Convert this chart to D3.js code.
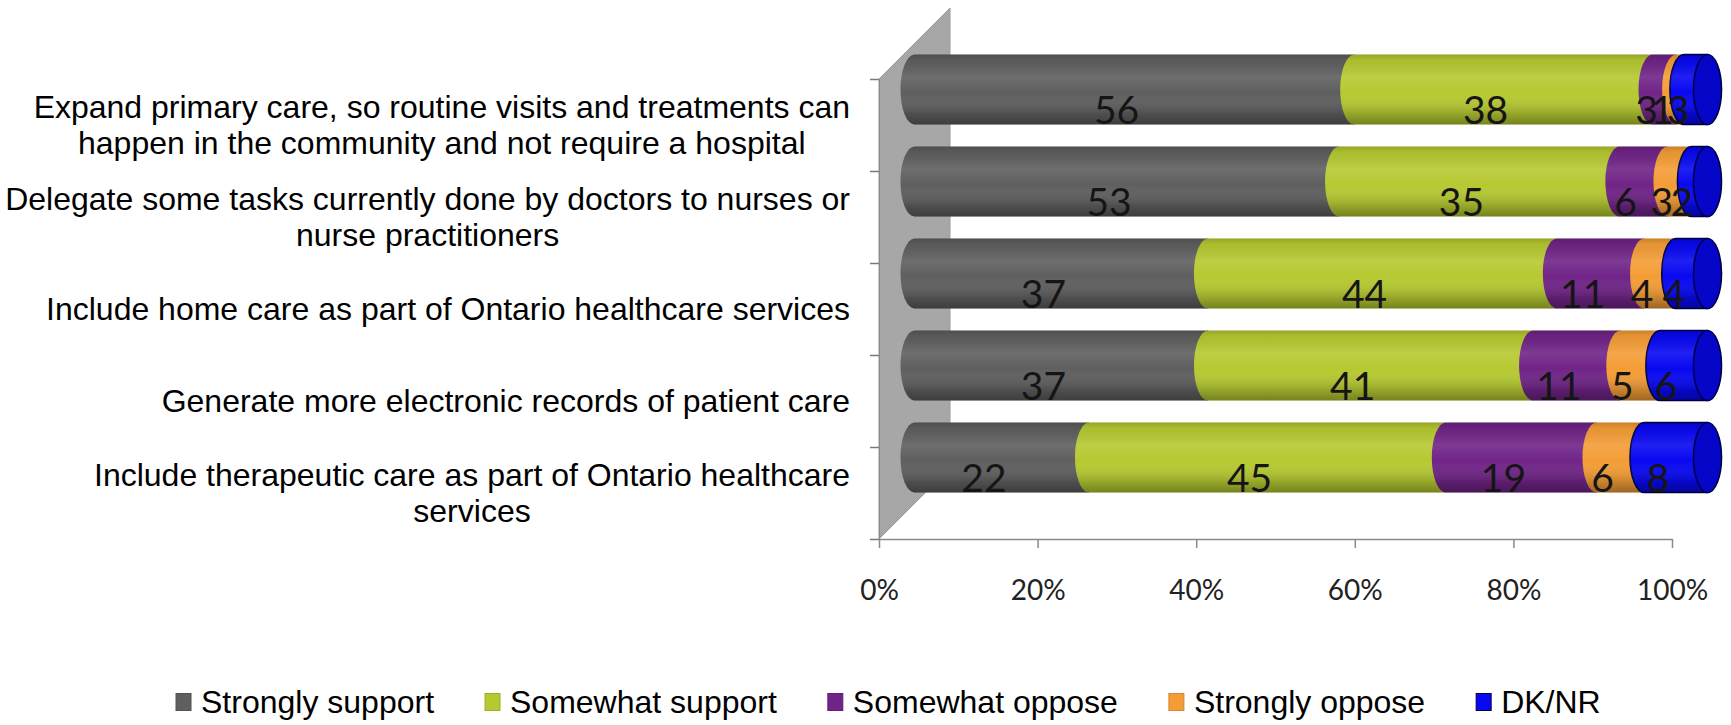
<!DOCTYPE html>
<html>
<head>
<meta charset="utf-8">
<script src="https://cdn.jsdelivr.net/npm/d3@7"></script>
<style>
  html, body { margin: 0; padding: 0; background: #ffffff; }
  svg { display: block; }
</style>
</head>
<body>
<svg id="chart" width="1731" height="725"></svg>
<script>
// Support for proposed Ontario healthcare changes (% of respondents)
const categories = [
  "Expand primary care, so routine visits and treatments can happen in the community and not require a hospital",
  "Delegate some tasks currently done by doctors to nurses or nurse practitioners",
  "Include home care as part of Ontario healthcare services",
  "Generate more electronic records of patient care",
  "Include therapeutic care as part of Ontario healthcare services"
];
const seriesNames = ["Strongly support", "Somewhat support", "Somewhat oppose", "Strongly oppose", "DK/NR"];
const stronglySupport = [56, 53, 37, 37, 22];
const somewhatSupport = [38, 35, 44, 41, 45];
const somewhatOppose  = [3, 6, 11, 11, 19];
const stronglyOppose  = [1, 3, 4, 5, 6];
const dkNr            = [3, 2, 4, 6, 8];
const tickValues = [0, 0.2, 0.4, 0.6, 0.8, 1];
const colors = ["#5f5f5f", "#b6c931", "#702487", "#f49d36", "#0808f2"];

const seriesValues = [stronglySupport, somewhatSupport, somewhatOppose, stronglyOppose, dkNr];
const rows = categories.map((c, i) => {
  const r = { category: c };
  seriesNames.forEach((s, j) => { r[s] = seriesValues[j][i]; });
  return r;
});

const svg = d3.select("#chart");
const depth = 71;            // 3D depth offset of the plot box
const half = depth / 2;      // bars sit in the middle of the depth

const x = d3.scaleLinear().domain([0, 1]).range([879, 1672]);
const y = d3.scaleBand().domain(categories).range([79, 539]);
const yEdge = d3.scaleLinear().domain([0, categories.length]).range([79, 539]);
const color = d3.scaleOrdinal().domain(seriesNames).range(colors);

const stacked = d3.stack().keys(seriesNames).offset(d3.stackOffsetExpand)(rows);

// gradients giving the cylinders a rounded look
const defs = svg.append("defs");
const shade = defs.append("linearGradient").attr("id", "shade")
  .attr("x1", 0).attr("y1", 0).attr("x2", 0).attr("y2", 1);
[[0, "#000", 0.18], [0.08, "#000", 0.06], [0.32, "#fff", 0.10], [0.55, "#fff", 0.0], [0.85, "#000", 0.18], [1, "#000", 0.35]]
  .forEach(([o, c, a]) => shade.append("stop").attr("offset", o).attr("stop-color", c).attr("stop-opacity", a));

// side wall
svg.append("path")
  .attr("d", `M${x(0)},${yEdge(0)} L${x(0) + depth},${yEdge(0) - depth} L${x(0) + depth},${yEdge(5) - depth} L${x(0)},${yEdge(5)} Z`)
  .attr("fill", "#a7a7a7")
  .attr("stroke", "#9a9a9a")
  .attr("stroke-width", 1);

// category axis ticks (left edge of the wall)
const yAxis = svg.append("g")
  .attr("transform", `translate(${x(0)},0)`)
  .call(d3.axisLeft(yEdge).ticks(5).tickFormat("").tickSize(9).tickSizeOuter(0));
yAxis.select(".domain").attr("stroke", "#8a8a8a");
yAxis.selectAll(".tick line").attr("stroke", "#7a7a7a").attr("stroke-width", 1.5);

// value axis along the front of the floor
const xAxis = svg.append("g")
  .attr("transform", `translate(0,${yEdge(5)})`)
  .call(d3.axisBottom(x).tickValues(tickValues).tickFormat(d3.format(".0%")).tickSize(9).tickSizeOuter(0));
xAxis.select(".domain").attr("stroke", "#8a8a8a").attr("stroke-width", 1.5);
xAxis.selectAll(".tick line").attr("stroke", "#8a8a8a").attr("stroke-width", 1.5);
xAxis.selectAll(".tick text")
  .attr("y", 51).attr("dy", "0.35em")
  .attr("font-family", "Lato, 'Open Sans', sans-serif")
  .attr("font-size", 28)
  .attr("fill", "#222");

// cylinders
const barH = y.bandwidth() * 0.76;
const rx = 14;
function segPath(x0, x1, yc) {
  const t = yc - barH / 2, b = yc + barH / 2;
  return `M${x0},${t} L${x1},${t} L${x1},${b} L${x0},${b} A${rx},${barH / 2} 0 0 1 ${x0},${t} Z`;
}

const bars = svg.append("g");
categories.forEach((cat, i) => {
  const yc = y(cat) + y.bandwidth() / 2 - half;
  const g = bars.append("g");
  stacked.forEach((layer, j) => {
    const d = layer[i];
    const x0 = x(d[0]) + half, x1 = x(d[1]) + half;
    const last = j === stacked.length - 1;
    g.append("path")
      .attr("d", segPath(x0, x1, yc))
      .attr("fill", color(layer.key))
      .attr("stroke", last ? "#00004a" : "none")
      .attr("stroke-width", last ? 1.6 : 0);
    g.append("path")
      .attr("d", segPath(x0, x1, yc))
      .attr("fill", "url(#shade)");
    if (last) {
      g.append("ellipse")
        .attr("cx", x1).attr("cy", yc)
        .attr("rx", rx).attr("ry", barH / 2)
        .attr("fill", "#0606c8")
        .attr("stroke", "#00004a")
        .attr("stroke-width", 1.6);
    }
  });
});

// data labels
const labels = svg.append("g")
  .attr("font-family", "Lato, 'Open Sans', sans-serif")
  .attr("font-size", 39)
  .attr("fill", "#151515")
  .attr("text-anchor", "middle");
categories.forEach((cat, i) => {
  const yc = y(cat) + y.bandwidth() / 2 - half / 2 + 3;
  stacked.forEach((layer, j) => {
    const d = layer[i];
    labels.append("text")
      .attr("x", (x(d[0]) + x(d[1])) / 2 + half / 2)
      .attr("y", yc)
      .attr("dy", "0.36em")
      .text(seriesValues[j][i]);
  });
});

// category labels, wrapped and centred on their widest line
const catFont = 32, lineH = 36.5, wrapW = 858, rightEdge = 850;
const catG = svg.append("g")
  .attr("font-family", "'Liberation Sans', Arial, sans-serif")
  .attr("font-size", catFont)
  .attr("fill", "#000");
categories.forEach(cat => {
  const probe = catG.append("text");
  const words = cat.split(" ");
  const lines = [];
  let cur = [];
  words.forEach(w => {
    const test = cur.concat([w]).join(" ");
    probe.text(test);
    if (probe.node().getComputedTextLength() > wrapW && cur.length) {
      lines.push(cur.join(" "));
      cur = [w];
    } else {
      cur.push(w);
    }
  });
  lines.push(cur.join(" "));
  const widths = lines.map(l => { probe.text(l); return probe.node().getComputedTextLength(); });
  probe.remove();
  const maxW = d3.max(widths);
  const cx = rightEdge - maxW / 2;
  const yc = y(cat) + y.bandwidth() / 2;
  const top = yc - (lines.length - 1) * lineH / 2;
  lines.forEach((l, k) => {
    catG.append("text")
      .attr("x", cx)
      .attr("y", top + k * lineH)
      .attr("dy", "0.35em")
      .attr("text-anchor", "middle")
      .text(l);
  });
});

// legend
const legend = svg.append("g")
  .attr("font-family", "'Liberation Sans', Arial, sans-serif")
  .attr("font-size", 32)
  .attr("fill", "#000");
let lx = 176;
const ly = 702;
seriesNames.forEach((s, j) => {
  legend.append("rect")
    .attr("x", lx).attr("y", ly - 8.5)
    .attr("width", 15).attr("height", 17)
    .attr("fill", color(s))
    .attr("stroke", j === 4 ? "#00004a" : d3.color(color(s)).darker(0.4))
    .attr("stroke-width", 1);
  const t = legend.append("text")
    .attr("x", lx + 25).attr("y", ly)
    .attr("dy", "0.35em")
    .text(s);
  lx += 25 + t.node().getComputedTextLength() + 51;
});
</script>
</body>
</html>
